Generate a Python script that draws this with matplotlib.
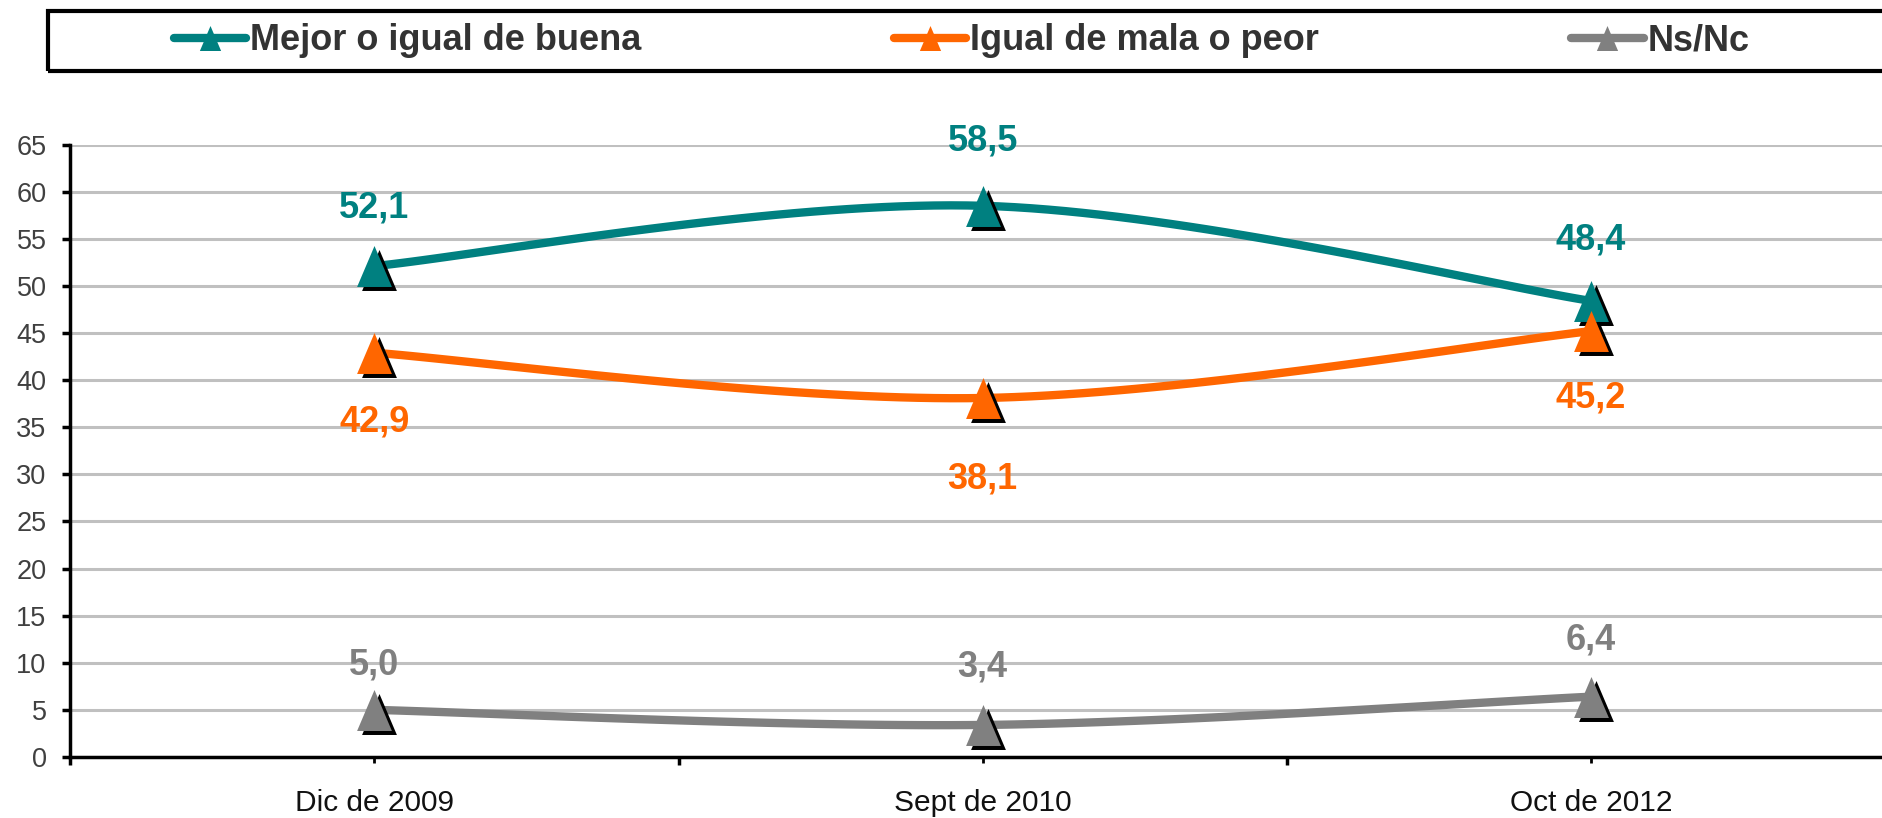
import numpy as np
import matplotlib
matplotlib.use("Agg")
import matplotlib.pyplot as plt
from matplotlib.lines import Line2D
from matplotlib.patches import Rectangle
import matplotlib.transforms as mtransforms

categories = ["Dic de 2009", "Sept de 2010", "Oct de 2012"]
mejor = [52.1, 58.5, 48.4]
peor = [42.9, 38.1, 45.2]
nsnc = [5.0, 3.4, 6.4]
series_names = ["Mejor o igual de buena", "Igual de mala o peor", "Ns/Nc"]
colors = ["#008080", "#FF6600", "#808080"]
yticks = list(range(0, 70, 5))

# vertical offset of value labels from each point (points, + above / - below)
label_offsets = [[42, 47, 44], [-50, -58, -48], [32, 42, 41]]

plt.rcParams['font.family'] = ['Liberation Sans', 'DejaVu Sans']

# narrow triangle marker like Excel's
tri = [(0, 1), (-0.85, -1), (0.85, -1), (0, 1)]


def smooth(xs, ys, n=40):
    # Catmull-Rom style bezier smoothing (like Excel's smoothed line)
    pts = np.column_stack([xs, ys]).astype(float)
    ext = np.vstack([pts[0], pts, pts[-1]])
    out = []
    for i in range(len(pts) - 1):
        p0, p1, p2, p3 = ext[i], ext[i + 1], ext[i + 2], ext[i + 3]
        c1 = p1 + (p2 - p0) / 6
        c2 = p2 - (p3 - p1) / 6
        t = np.linspace(0, 1, n)[:, None]
        seg = ((1 - t) ** 3) * p1 + 3 * ((1 - t) ** 2) * t * c1 + 3 * (1 - t) * t ** 2 * c2 + t ** 3 * p2
        out.append(seg if i == 0 else seg[1:])
    seg = np.vstack(out)
    return seg[:, 0], seg[:, 1]


fig = plt.figure(figsize=(18.83, 8.18), dpi=100)
ax = fig.add_axes([0.0373, 0.0746, 0.9692, 0.7487])

x = np.arange(len(categories))
shadow = mtransforms.offset_copy(ax.transData, fig=fig, x=5, y=-4, units='dots')

for vals, col, offs in zip([mejor, peor, nsnc], colors, label_offsets):
    sx, sy = smooth(x, vals)
    ax.plot(sx, sy, color=col, lw=6, solid_capstyle='butt', zorder=3)
    ax.plot(x, vals, ls='none', marker=tri, ms=29.5, color='black', mec='black', mew=0,
            transform=shadow, zorder=4)
    ax.plot(x, vals, ls='none', marker=tri, ms=29.5, color=col, mec=col, mew=0, zorder=5)
    for xi, v, off in zip(x, vals, offs):
        ax.annotate(f"{v:.1f}".replace(".", ","), (xi, v), xytext=(0, off), textcoords='offset points',
                    ha='center', va='center', fontsize=26, fontweight='bold', color=col, zorder=6)

ax.set_xlim(-0.5, 2.5)
ax.set_ylim(0, 65)
ax.set_yticks(yticks)
ax.set_xticks(x)
ax.set_xticklabels(categories)
ax.set_xticks([-0.5, 0.5, 1.5, 2.5], minor=True)
ax.tick_params(axis='x', which='major', length=4.5, width=2, direction='out', pad=18.5,
               labelsize=21.5, labelcolor='#111111')
ax.tick_params(axis='x', which='minor', length=6, width=2.5, direction='out')
ax.tick_params(axis='y', length=6, width=2.5, direction='out', pad=11, labelsize=19.5, labelcolor='#404040')
ax.yaxis.grid(True, color='#C0C0C0', lw=2.2)
ax.set_axisbelow(True)
for s in ['top', 'right']:
    ax.spines[s].set_visible(False)
ax.spines['left'].set_linewidth(2.5)
ax.spines['bottom'].set_linewidth(2.5)

# legend box
fig.patches.append(Rectangle((48 / 1883, 1 - 71 / 818), 1.0, 60 / 818, transform=fig.transFigure,
                             fill=False, ec='black', lw=3, clip_on=False))
handles = [Line2D([], [], color=c, lw=6, solid_capstyle='round', marker=tri, ms=18, mew=0)
           for c in colors]
leg = fig.legend(handles, series_names, loc='center left', bbox_to_anchor=(174 / 1883, 1 - 41 / 818),
                 ncol=3, frameon=False, prop={'weight': 'bold', 'size': 26},
                 handlelength=2.0, handletextpad=0.1, columnspacing=7.0, borderpad=0, borderaxespad=0)
for t in leg.get_texts():
    t.set_color('#333333')

fig.savefig("out.png", dpi=100)
